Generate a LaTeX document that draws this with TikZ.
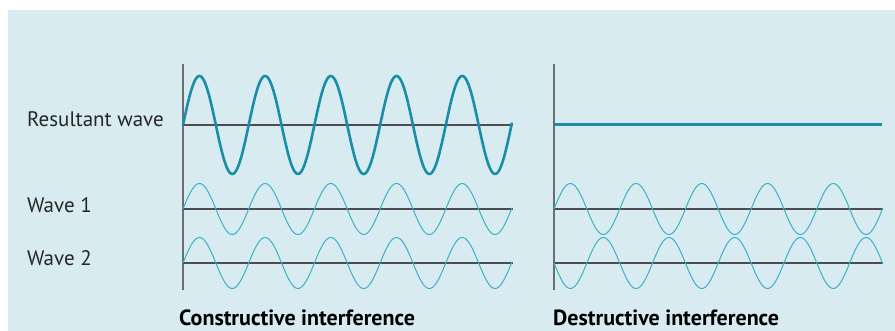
\documentclass[tikz,border=0pt]{standalone}
\usepackage{fontspec}
\setmainfont{PT Sans}
\begin{document}
\begin{tikzpicture}[x=1pt,y=-1pt,
  bgcol/.style={fill=bgblue,draw=none},
  axisv/.style={draw=axisgrey,line width=2pt},
  baseln/.style={draw=baseline,line width=1.4pt},
  reswave/.style={draw=resteal,line width=2.6pt,line join=round},
  thinwave/.style={draw=thincyan,line width=1pt},
  lab/.style={anchor=base west,inner sep=0pt,text depth=0pt,font=\fontsize{21}{24}\selectfont,text=black!85},
  title/.style={anchor=base west,inner sep=0pt,text depth=0pt,font=\fontsize{22}{24}\selectfont\bfseries,text=black}
]
\definecolor{bgblue}{HTML}{D7EBF0}
\definecolor{axisgrey}{HTML}{6A6E70}
\definecolor{baseline}{HTML}{4A4E50}
\definecolor{resteal}{HTML}{1A8EA6}
\definecolor{thincyan}{HTML}{3BB2C6}
\useasboundingbox (0,0) rectangle (895,331);
\fill[white] (0,0) rectangle (895,331);
\path[bgcol] (8,10) rectangle (895,331);

% left panel
\coordinate (LA) at (183,64);
\coordinate (LB) at (183,290);
\draw[axisv] (LA) -- (LB);
\coordinate (LR0) at (183,125); \coordinate (LR1) at (513,125);
\coordinate (L10) at (183,209); \coordinate (L11) at (513,209);
\coordinate (L20) at (183,263); \coordinate (L21) at (513,263);
\draw[baseln] (LR0) -- (LR1);
\draw[baseln] (L10) -- (L11);
\draw[baseln,line width=1.2pt] (L20) -- (L21);
\draw[reswave] plot[domain=0:329,samples=300,smooth] (183+\x,{125-49*sin(\x/65.7*360)});
\draw[thinwave] plot[domain=0:329,samples=300,smooth] (183+\x,{209-25.5*sin(\x/65.7*360)});
\draw[thinwave] plot[domain=0:329,samples=300,smooth] (183+\x,{263-25.5*sin(\x/65.7*360)});

% right panel
\coordinate (RA) at (554,64);
\coordinate (RB) at (554,290);
\draw[axisv] (RA) -- (RB);
\coordinate (RR0) at (555,124.5); \coordinate (RR1) at (882,124.5);
\coordinate (R10) at (554,209); \coordinate (R11) at (883,209);
\coordinate (R20) at (554,263); \coordinate (R21) at (883,263);
\draw[baseln] (R10) -- (R11);
\draw[baseln,line width=1.2pt] (R20) -- (R21);
\draw[reswave,line width=3pt] (RR0) -- (RR1);
\draw[thinwave] plot[domain=0:329,samples=300,smooth] (554+\x,{209-25.5*sin(\x/65.7*360)});
\draw[thinwave] plot[domain=0:329,samples=300,smooth] (554+\x,{263+25.5*sin(\x/65.7*360)});

% labels
\node[lab] (lres) at (27,127) {Resultant wave};
\node[lab] (lw1) at (27,213) {Wave 1};
\node[lab] (lw2) at (27,266) {Wave 2};
\node[title] (tcon) at (179,326) {Constructive interference};
\node[title] (tdes) at (553,326) {Destructive interference};
\end{tikzpicture}
\end{document}
